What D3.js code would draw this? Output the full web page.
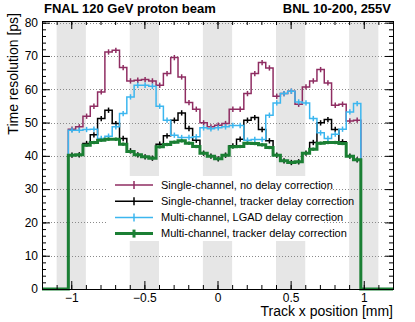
<!DOCTYPE html>
<html>
<head>
<meta charset="utf-8">
<script src="https://cdn.jsdelivr.net/npm/d3@7"></script>
<style>
body { margin: 0; background: #fff; }
text { font-family: "Liberation Sans", Arial, Helvetica, sans-serif; }
</style>
</head>
<body>
<div id="canvas"></div>
<script>
// 40 bins of 0.05 mm, first bin starts at -1.02 mm
const binStart = -1.02;
const binWidth = 0.05;

const singleNoDelay = [48.0, 48.7, 51.9, 54.9, 59.2, 71.2, 71.7, 66.5, 62.5, 62.7,
    62.9, 62.5, 61.2, 64.7, 69.5, 63.7, 56.0, 54.0, 49.9, 48.7,
    49.2, 49.7, 54.0, 54.0, 58.7, 64.7, 68.0, 66.4, 57.9, 58.7,
    59.4, 55.5, 60.7, 62.5, 65.9, 61.9, 55.2, 55.5, 50.5, 50.7];

const singleTracker = [40.2, 40.3, 43.7, 46.3, 51.2, 53.7, 49.7, 45.2, 41.5, 40.3,
    39.7, 39.3, 43.5, 46.0, 50.7, 52.9, 48.2, 44.7, 40.8, 39.9,
    39.1, 40.2, 43.0, 45.0, 50.7, 51.5, 47.9, 44.5, 40.2, 38.5,
    38.0, 38.2, 40.8, 44.0, 49.9, 50.9, 47.9, 44.2, 39.9, 38.8];

const multiLGAD = [47.7, 47.7, 47.9, 48.0, 45.2, 45.9, 48.7, 52.7, 57.7, 61.2,
    61.2, 60.9, 54.9, 50.7, 46.2, 45.5, 45.5, 45.7, 48.4, 48.1,
    48.4, 48.7, 49.1, 49.1, 44.7, 44.9, 44.9, 52.2, 55.9, 58.7,
    59.4, 56.2, 55.9, 51.2, 46.9, 45.2, 46.5, 48.0, 53.2, 55.7];

const multiTracker = [40.2, 40.3, 43.2, 44.0, 44.7, 45.0, 45.0, 43.5, 41.3, 40.3,
    39.7, 39.3, 42.7, 43.4, 44.1, 44.5, 43.8, 42.8, 40.8, 39.9,
    39.1, 40.2, 42.7, 42.8, 43.8, 43.7, 43.3, 42.5, 40.2, 38.5,
    38.0, 38.2, 40.8, 42.0, 43.8, 44.0, 44.0, 43.7, 39.9, 38.8];

const seriesNames = [
    "Single-channel, no delay correction",
    "Single-channel, tracker delay correction",
    "Multi-channel, LGAD delay correction",
    "Multi-channel, tracker delay correction"
];
const errorSizes = [0.8, 0.8, 0.8, 0.5];

const padCenters = [-1, -0.5, 0, 0.5, 1];
const xTicks = [-1, -0.5, 0, 0.5, 1];
const yTicks = [0, 10, 20, 30, 40, 50, 60, 70, 80];

const series = [
    { name: seriesNames[0], values: singleNoDelay, err: errorSizes[0], color: "#8f2d62", width: 1.5 },
    { name: seriesNames[1], values: singleTracker, err: errorSizes[1], color: "#000000", width: 1.5 },
    { name: seriesNames[2], values: multiLGAD, err: errorSizes[2], color: "#3cb6ef", width: 1.5 },
    { name: seriesNames[3], values: multiTracker, err: errorSizes[3], color: "#1b7f34", width: 3 }
];

const width = 415;
const height = 322;
const margin = { top: 21, left: 42, bottom: 33, right: 22 };

const svg = d3.select("#canvas").append("svg")
    .attr("width", width)
    .attr("height", height);

const x = d3.scaleLinear()
    .domain([-1.2, 1.2])
    .range([margin.left, width - margin.right]);

const y = d3.scaleLinear()
    .domain([0, 80.5])
    .range([height - margin.bottom, margin.top]);

// metal pads shaded grey
svg.append("g").selectAll("rect").data(padCenters).enter().append("rect")
    .attr("x", (d) => x(d - 0.1))
    .attr("width", (d) => x(d + 0.1) - x(d - 0.1))
    .attr("y", margin.top)
    .attr("height", height - margin.bottom - margin.top)
    .attr("fill", "#e6e6e6");

// dotted grid
svg.append("g").selectAll("line").data(yTicks.slice(1)).enter().append("line")
    .attr("x1", margin.left)
    .attr("x2", width - margin.right)
    .attr("y1", (d) => Math.round(y(d)) + 0.5)
    .attr("y2", (d) => Math.round(y(d)) + 0.5)
    .attr("stroke", "#8a8a8a")
    .attr("stroke-dasharray", "1,2");

// histograms
const line = d3.line()
    .x((d) => x(d[0]))
    .y((d) => y(d[1]))
    .curve(d3.curveStepAfter);

series.forEach((s) => {
    const pts = [[-1.2, 0]];
    s.values.forEach((v, i) => pts.push([binStart + i * binWidth, v]));
    pts.push([binStart + s.values.length * binWidth, 0]);
    pts.push([1.2, 0]);

    const g = svg.append("g");
    g.append("path")
        .attr("d", line(pts))
        .attr("fill", "none")
        .attr("stroke", s.color)
        .attr("stroke-width", s.width);

    g.selectAll("line").data(s.values).enter().append("line")
        .attr("x1", (d, i) => x(binStart + (i + 0.5) * binWidth))
        .attr("x2", (d, i) => x(binStart + (i + 0.5) * binWidth))
        .attr("y1", (d) => y(d - s.err))
        .attr("y2", (d) => y(d + s.err))
        .attr("stroke", s.color)
        .attr("stroke-width", s.width === 3 ? 2 : s.width);
});

// legend
const legend = svg.append("g");
legend.append("rect")
    .attr("x", 107).attr("y", 176)
    .attr("width", 216).attr("height", 65)
    .attr("fill", "#fff");

series.forEach((s, i) => {
    const ly = 185 + i * 16.2;
    legend.append("line")
        .attr("x1", 115).attr("x2", 153)
        .attr("y1", ly).attr("y2", ly)
        .attr("stroke", s.color).attr("stroke-width", s.width);
    legend.append("line")
        .attr("x1", 134).attr("x2", 134)
        .attr("y1", ly - 4).attr("y2", ly + 4)
        .attr("stroke", s.color).attr("stroke-width", s.width);
    legend.append("text")
        .attr("x", 161).attr("y", ly)
        .attr("dy", "0.35em")
        .attr("font-size", 11)
        .text(s.name);
});

// axes with inward ticks
const fmt = d3.format("~g");
const bottom = height - margin.bottom;
const right = width - margin.right;
const xMinor = d3.range(-12, 13).map((d) => d / 10);
const yMinor = d3.range(0, 81, 2);

svg.append("g")
    .attr("transform", `translate(0,${bottom})`)
    .call(d3.axisBottom(x).tickValues(xTicks).tickSize(-8).tickPadding(4).tickFormat(fmt))
    .call((g) => g.select(".domain").remove())
    .call((g) => g.selectAll("text").attr("font-size", 12));
svg.append("g")
    .attr("transform", `translate(0,${bottom})`)
    .call(d3.axisBottom(x).tickValues(xMinor).tickSize(-4).tickFormat(""))
    .call((g) => g.select(".domain").remove());
svg.append("g")
    .attr("transform", `translate(0,${margin.top})`)
    .call(d3.axisTop(x).tickValues(xTicks).tickSize(-8).tickFormat(""))
    .call((g) => g.select(".domain").remove());
svg.append("g")
    .attr("transform", `translate(0,${margin.top})`)
    .call(d3.axisTop(x).tickValues(xMinor).tickSize(-4).tickFormat(""))
    .call((g) => g.select(".domain").remove());

svg.append("g")
    .attr("transform", `translate(${margin.left},0)`)
    .call(d3.axisLeft(y).tickValues(yTicks).tickSize(-8).tickPadding(4).tickFormat(fmt))
    .call((g) => g.select(".domain").remove())
    .call((g) => g.selectAll("text").attr("font-size", 12));
svg.append("g")
    .attr("transform", `translate(${margin.left},0)`)
    .call(d3.axisLeft(y).tickValues(yMinor).tickSize(-4).tickFormat(""))
    .call((g) => g.select(".domain").remove());
svg.append("g")
    .attr("transform", `translate(${right},0)`)
    .call(d3.axisRight(y).tickValues(yTicks).tickSize(-8).tickFormat(""))
    .call((g) => g.select(".domain").remove());
svg.append("g")
    .attr("transform", `translate(${right},0)`)
    .call(d3.axisRight(y).tickValues(yMinor).tickSize(-4).tickFormat(""))
    .call((g) => g.select(".domain").remove());

svg.append("rect")
    .attr("x", margin.left + 0.5).attr("y", margin.top + 0.5)
    .attr("width", right - margin.left).attr("height", bottom - margin.top)
    .attr("fill", "none").attr("stroke", "#000");

// titles
svg.append("text")
    .attr("transform", "translate(18,13) rotate(-90)")
    .attr("text-anchor", "end")
    .attr("font-size", 14)
    .text("Time resolution [ps]");
svg.append("text")
    .attr("x", right).attr("y", 316)
    .attr("text-anchor", "end")
    .attr("font-size", 14)
    .text("Track x position [mm]");
svg.append("text")
    .attr("x", 44).attr("y", 13)
    .attr("font-size", 13).attr("font-weight", "bold")
    .text("FNAL 120 GeV proton beam");
svg.append("text")
    .attr("x", 391).attr("y", 13)
    .attr("text-anchor", "end")
    .attr("font-size", 13).attr("font-weight", "bold")
    .text("BNL 10-200, 255V");
</script>
</body>
</html>
